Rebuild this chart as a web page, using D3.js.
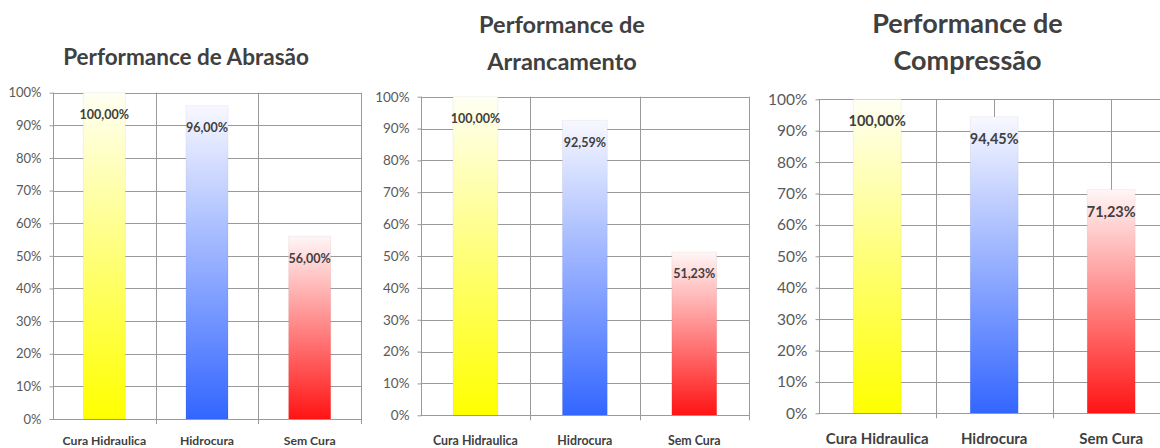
<!DOCTYPE html>
<html><head><meta charset="utf-8">
<script src="https://cdn.jsdelivr.net/npm/d3@7"></script>
<style>
html,body{margin:0;padding:0;background:#fff;overflow:hidden;}
svg{display:block;font-family:Lato,"Open Sans",sans-serif;}
</style></head>
<body>
<svg id="c" width="1160" height="448"></svg>
<script>
// ---- data ----
const categories = ["Cura Hidraulica", "Hidrocura", "Sem Cura"];
const abrasaoValues = [100, 96, 56];
const arrancamentoValues = [100, 92.59, 51.23];
const compressaoValues = [100, 94.45, 71.23];
const yTickValues = [0, 10, 20, 30, 40, 50, 60, 70, 80, 90, 100];
const abrasaoTitle = ["Performance de Abrasão"];
const arrancamentoTitle = ["Performance de", "Arrancamento"];
const compressaoTitle = ["Performance de", "Compressão"];
const barColors = ["#ffff00", "#3366ff", "#ff1414"];
const barTopColors = ["#fffff4", "#f8f8ff", "#fff6f6"];

// ---- layout (not data) ----
const panels = [
  {values: abrasaoValues, title: abrasaoTitle, x0: 53, x1: 361, yTop: 92.7, yBot: 419,
   titleX: 186, titleY: [65], titleSize: 22.5, tickSize: 13, catSize: 12.2, labSize: 12.5, catY: 444.5, centerGrid: false},
  {values: arrancamentoValues, title: arrancamentoTitle, x0: 420.7, x1: 749, yTop: 96.7, yBot: 415.3,
   titleX: 562, titleY: [33, 70], titleSize: 23.5, tickSize: 13.5, catSize: 12.4, labSize: 12.5, catY: 444.5, centerGrid: false},
  {values: compressaoValues, title: compressaoTitle, x0: 818.7, x1: 1169.7, yTop: 99.3, yBot: 413.3,
   titleX: 967.5, titleY: [33, 70], titleSize: 27, tickSize: 15.5, catSize: 15, labSize: 14.5, catY: 444, centerGrid: true}
];

const svg = d3.select("#c");
const defs = svg.append("defs");
barColors.forEach((c, i) => {
  const g = defs.append("linearGradient").attr("id", "grad" + i)
    .attr("x1", 0).attr("y1", 1).attr("x2", 0).attr("y2", 0);
  g.append("stop").attr("offset", "0%").attr("stop-color", c);
  g.append("stop").attr("offset", "100%").attr("stop-color", barTopColors[i]);
});

const fmt = v => d3.format(".2f")(v).replace(".", ",") + "%";
const gridColor = "#9a9a9a";

panels.forEach(p => {
  const g = svg.append("g");
  const x = d3.scaleBand().domain(categories).range([p.x0, p.x1]).paddingInner(0.59).paddingOuter(0.295);
  const y = d3.scaleLinear().domain([0, 100]).range([p.yBot, p.yTop]);
  const step = x.step();

  // horizontal gridlines
  g.append("g").selectAll("line").data(yTickValues.filter(d => d > 0)).join("line")
    .attr("x1", p.x0).attr("x2", p.x1)
    .attr("y1", d => Math.round(y(d)) + 0.5).attr("y2", d => Math.round(y(d)) + 0.5)
    .attr("stroke", gridColor).attr("stroke-width", 1);

  // vertical gridlines at band boundaries (+ centers for chart 3)
  const vx = [];
  for (let i = 1; i <= categories.length; i++) vx.push(p.x0 + i * step);
  if (p.centerGrid) categories.forEach(c => vx.push(x(c) + x.bandwidth() / 2));
  g.append("g").selectAll("line").data(vx).join("line")
    .attr("x1", d => Math.round(d) + 0.5).attr("x2", d => Math.round(d) + 0.5)
    .attr("y1", p.yTop).attr("y2", (d, i) => i < categories.length ? p.yBot + 5 : p.yBot)
    .attr("stroke", gridColor).attr("stroke-width", 1);

  // bars
  g.append("g").selectAll("rect").data(p.values).join("rect")
    .attr("x", (d, i) => x(categories[i]))
    .attr("y", d => y(d))
    .attr("width", x.bandwidth())
    .attr("height", d => y(0) - y(d))
    .attr("fill", (d, i) => `url(#grad${i})`)
    .attr("stroke", "rgba(0,0,0,0.05)").attr("stroke-width", 1);

  // x axis baseline
  g.append("line").attr("x1", p.x0).attr("x2", p.x1)
    .attr("y1", Math.round(p.yBot) + 0.5).attr("y2", Math.round(p.yBot) + 0.5)
    .attr("stroke", gridColor);

  // y axis
  const ya = g.append("g").attr("transform", `translate(${Math.round(p.x0) + 0.5},0)`)
    .call(d3.axisLeft(y).tickValues(yTickValues).tickSize(4).tickPadding(8).tickFormat(d => d + "%"));
  ya.select(".domain").attr("stroke", gridColor).attr("d", `M0,${p.yTop}V${p.yBot}`);
  ya.selectAll(".tick line").attr("stroke", gridColor);
  ya.selectAll(".tick text").attr("fill", "#595959").style("font-size", p.tickSize + "px")
    .style("font-family", "Lato, sans-serif");

  // data labels
  g.append("g").selectAll("text").data(p.values).join("text")
    .attr("x", (d, i) => x(categories[i]) + x.bandwidth() / 2)
    .attr("y", d => y(d) + 22)
    .attr("dy", "0.35em")
    .attr("text-anchor", "middle")
    .attr("fill", "#404040").attr("font-weight", "bold")
    .style("font-size", p.labSize + "px")
    .text(d => fmt(d));

  // category labels
  g.append("g").selectAll("text").data(categories).join("text")
    .attr("x", d => x(d) + x.bandwidth() / 2)
    .attr("y", p.catY)
    .attr("text-anchor", "middle")
    .attr("fill", "#404040").attr("font-weight", "bold")
    .style("font-size", p.catSize + "px")
    .text(d => d);

  // title
  g.append("g").selectAll("text").data(p.title).join("text")
    .attr("x", p.titleX)
    .attr("y", (d, i) => p.titleY[i])
    .attr("text-anchor", "middle")
    .attr("fill", "#404040").attr("font-weight", "bold")
    .style("font-size", p.titleSize + "px")
    .text(d => d);
});
</script>
</body></html>
